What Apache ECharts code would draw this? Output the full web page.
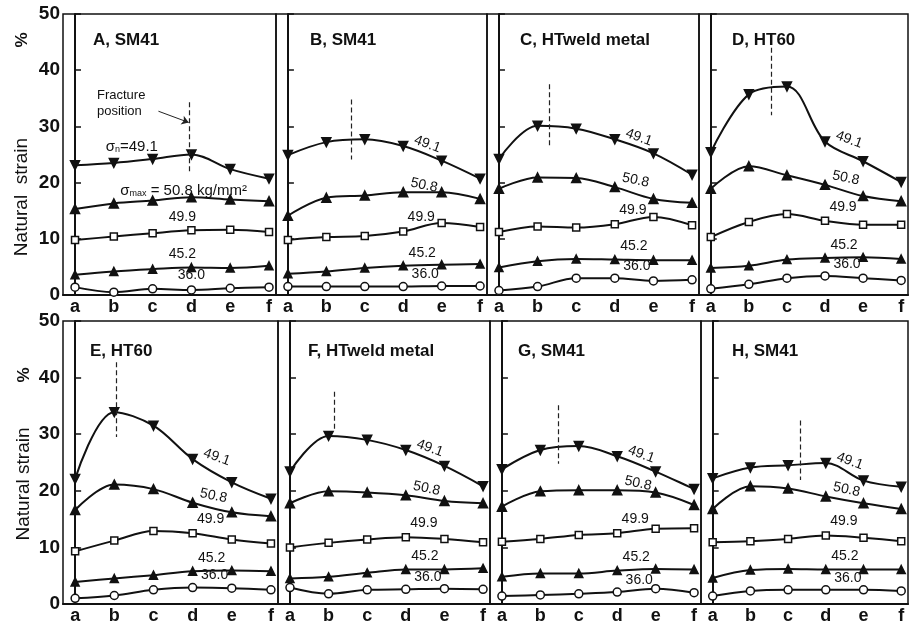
<!DOCTYPE html>
<html>
<head>
<meta charset="utf-8">
<script src="https://cdn.jsdelivr.net/npm/echarts@6/dist/echarts.min.js"></script>
<style>
  html, body { margin: 0; padding: 0; background: #fff; }
  #main { width: 910px; height: 625px; }
</style>
</head>
<body>
<div id="main"></div>
<script>
// categories on the x axis (positions along the specimen)
var categories = ['a', 'b', 'c', 'd', 'e', 'f'];
var panelTitles = ['A, SM41', 'B, SM41', 'C, HTweld metal', 'D, HT60',
                   'E, HT60', 'F, HTweld metal', 'G, SM41', 'H, SM41'];
var yTicks = [0, 10, 20, 30, 40, 50];

// natural strain (%) per panel A..H, one array per stress level
var s49_1 = [
  [23.1, 23.5, 24.2, 25.0, 22.4, 20.7],
  [24.9, 27.2, 27.7, 26.5, 23.9, 20.7],
  [24.2, 30.1, 29.6, 27.7, 25.2, 21.4],
  [25.4, 35.7, 37.1, 27.3, 23.8, 20.1],
  [22.1, 33.9, 31.5, 25.6, 21.5, 18.6],
  [23.4, 29.7, 29.0, 27.2, 24.4, 20.8],
  [23.8, 27.2, 27.9, 26.1, 23.4, 20.3],
  [22.2, 24.1, 24.5, 24.9, 21.8, 20.7]
];
var s50_8 = [
  [15.3, 16.3, 16.8, 17.4, 17.0, 16.7],
  [14.1, 17.3, 17.7, 18.3, 18.3, 17.1],
  [18.9, 20.9, 20.8, 19.2, 17.1, 16.4],
  [18.9, 22.9, 21.3, 19.6, 17.6, 16.7],
  [16.6, 21.1, 20.3, 17.9, 16.2, 15.5],
  [17.8, 19.9, 19.7, 19.2, 18.2, 17.8],
  [17.2, 19.9, 20.1, 20.1, 19.7, 17.5],
  [16.8, 20.8, 20.4, 19.0, 17.8, 16.8]
];
var s49_9 = [
  [9.8, 10.4, 11.0, 11.5, 11.6, 11.2],
  [9.8, 10.3, 10.5, 11.3, 12.8, 12.1],
  [11.2, 12.2, 12.0, 12.6, 13.9, 12.4],
  [10.3, 13.0, 14.4, 13.2, 12.5, 12.5],
  [9.3, 11.2, 12.9, 12.5, 11.4, 10.7],
  [10.0, 10.8, 11.4, 11.8, 11.5, 10.9],
  [11.0, 11.5, 12.2, 12.5, 13.3, 13.4],
  [10.9, 11.1, 11.5, 12.1, 11.7, 11.1]
];
var s45_2 = [
  [3.6, 4.2, 4.6, 4.9, 4.8, 5.2],
  [3.8, 4.2, 4.8, 5.2, 5.4, 5.5],
  [4.9, 6.0, 6.4, 6.3, 6.2, 6.2],
  [4.8, 5.2, 6.3, 6.6, 6.7, 6.4],
  [3.9, 4.5, 5.1, 5.8, 5.9, 5.8],
  [4.5, 4.8, 5.5, 6.1, 6.1, 6.3],
  [4.8, 5.4, 5.4, 5.9, 6.2, 6.1],
  [4.6, 6.0, 6.2, 6.1, 6.1, 6.1]
];
var s36_0 = [
  [1.4, 0.5, 1.1, 0.9, 1.2, 1.4],
  [1.5, 1.5, 1.5, 1.5, 1.6, 1.6],
  [0.8, 1.5, 3.0, 3.0, 2.5, 2.7],
  [1.1, 1.9, 3.0, 3.4, 3.0, 2.6],
  [1.0, 1.5, 2.5, 2.9, 2.8, 2.5],
  [2.9, 1.8, 2.5, 2.6, 2.7, 2.6],
  [1.4, 1.6, 1.8, 2.1, 2.7, 2.0],
  [1.4, 2.3, 2.5, 2.5, 2.5, 2.3]
];
var seriesNames = ['49.1', '50.8', '49.9', '45.2', '36.0'];

// fracture position (x in category units) and the extent of its dashed mark
var fractureX = [2.95, 1.65, 1.3, 1.6, 1.05, 1.14, 1.47, 2.31];
var fractureTop = [34.3, 34.8, 37.5, 44.0, 42.7, 37.5, 35.1, 32.4];
var fractureBottom = [21.8, 24.1, 26.5, 32.0, 29.5, 30.7, 24.8, 21.9];

var FONT = 'Liberation Sans';
var allSets = [s49_1, s50_8, s49_9, s45_2, s36_0];
var symbols = ['triangle', 'triangle', 'rect', 'triangle', 'circle'];
var symbolRot = [180, 0, 0, 0, 0];
var symbolFill = ['#111', '#111', '#fff', '#111', '#fff'];
var symbolSizes = [9, 9, 7, 8, 8];

// label: point index, offset, rotation
var defLabels = [
  {i: 3, off: [22, -10], rot: -20},
  {i: 3, off: [19, -11], rot: -12},
  {i: 3, off: [18, -14], rot: 0},
  {i: 3, off: [19, -13], rot: 0},
  {i: 3, off: [22, -12], rot: 0}
];
var panelALabels = [
  {i: 1, off: [18, -16], rot: 0, text: '{s|σ}{sub|n}{s|=49.1}'},
  {i: 2, off: [31, -10], rot: 0, text: '{s|σ}{sub|max}{s| = 50.8 kg/mm²}'},
  {i: 3, off: [-9, -13], rot: 0},
  {i: 3, off: [-9, -13], rot: 0},
  {i: 3, off: [0, -15], rot: 0}
];

var grids = [], xAxes = [], yAxes = [], series = [], titles = [];
var topLefts = [63, 276, 487, 699], topWidths = [213, 211, 212, 209];
var botLefts = [63, 278, 490, 701], botWidths = [215, 212, 211, 207];
var titleLeft = [88, 305, 515, 727, 85, 303, 513, 727];

for (var p = 0; p < 8; p++) {
  var row = p < 4 ? 0 : 1, col = p % 4;
  grids.push({
    left: row ? botLefts[col] : topLefts[col],
    width: row ? botWidths[col] : topWidths[col],
    top: row ? 321 : 14,
    height: row ? 285 : 281,
    show: true, borderColor: '#111', borderWidth: 1.5,
    containLabel: false
  });
  xAxes.push({
    type: 'value', gridIndex: p, min: -0.31, max: 5.18,
    axisLine: {show: true, onZero: false, lineStyle: {color: '#111', width: 2}},
    axisTick: {show: false},
    splitLine: {show: false},
    axisLabel: {
      customValues: [0, 1, 2, 3, 4, 5],
      formatter: function (v) { return categories[Math.round(v)]; },
      margin: 3, fontSize: 18, fontWeight: 'bold', color: '#111', fontFamily: FONT
    }
  });
  yAxes.push({
    type: 'value', gridIndex: p, min: 0, max: 50, interval: 10,
    axisLine: {show: true, lineStyle: {color: '#111', width: 2}},
    axisTick: {show: true, inside: true, length: 6, lineStyle: {color: '#111', width: 1.5}},
    splitLine: {show: false},
    axisLabel: {
      show: col === 0, margin: 3, fontSize: 19, fontWeight: 'bold',
      color: '#111', fontFamily: FONT
    }
  });
  titles.push({
    text: panelTitles[p], left: titleLeft[p], top: row ? 338 : 27,
    textStyle: {fontSize: 17, fontWeight: 'bold', color: '#111', fontFamily: FONT}
  });

  for (var s = 0; s < 5; s++) {
    var vals = allSets[s][p];
    var lab = p === 0 ? panelALabels[s] : defLabels[s];
    var data = vals.map(function (v, i) {
      var item = {value: [i, v]};
      if (i === lab.i) {
        item.label = {
          show: true, position: 'inside', offset: lab.off, rotate: lab.rot,
          formatter: lab.text || seriesNames[s],
          fontSize: 14, fontFamily: FONT, color: '#111',
          rich: {
            s: {fontSize: 15, fontFamily: FONT, color: '#111'},
            sub: {fontSize: 9, fontFamily: FONT, color: '#111', verticalAlign: 'bottom', padding: [6, 0, 0, 0]}
          }
        };
      }
      return item;
    });
    var ser = {
      type: 'line', name: seriesNames[s], xAxisIndex: p, yAxisIndex: p,
      data: data, smooth: 0.35,
      symbol: symbols[s], symbolRotate: symbolRot[s], symbolSize: symbolSizes[s],
      itemStyle: {color: symbolFill[s], borderColor: '#111', borderWidth: 1.5},
      lineStyle: {color: '#111', width: 2},
      label: {show: false},
      silent: true, animation: false, z: 3
    };
    if (s === 0) {
      var ml = [[
        {coord: [fractureX[p], fractureTop[p]]},
        {coord: [fractureX[p], fractureBottom[p]]}
      ]];
      if (p === 0) {
        ml.push([
          {coord: [2.15, 32.7], lineStyle: {type: 'solid', width: 1}, symbol: 'none'},
          {coord: [2.93, 30.7], symbol: 'arrow', symbolSize: 7}
        ]);
      }
      ser.markLine = {
        silent: true, symbol: ['none', 'none'], label: {show: false},
        lineStyle: {color: '#222', type: [5, 3], width: 1.2},
        data: ml, animation: false
      };
    }
    series.push(ser);
  }
}

var graphic = [
  {type: 'text', x: 22, y: 197, rotation: Math.PI / 2,
   style: {text: 'Natural  strain', fontSize: 19, fontFamily: FONT, fill: '#111',
           align: 'center', verticalAlign: 'middle'}},
  {type: 'text', x: 22, y: 40, rotation: Math.PI / 2,
   style: {text: '%', fontSize: 17, fontWeight: 'bold', fontFamily: FONT, fill: '#111',
           align: 'center', verticalAlign: 'middle'}},
  {type: 'text', x: 24, y: 484, rotation: Math.PI / 2,
   style: {text: 'Natural strain', fontSize: 19, fontFamily: FONT, fill: '#111',
           align: 'center', verticalAlign: 'middle'}},
  {type: 'text', x: 24, y: 375, rotation: Math.PI / 2,
   style: {text: '%', fontSize: 17, fontWeight: 'bold', fontFamily: FONT, fill: '#111',
           align: 'center', verticalAlign: 'middle'}},
  {type: 'text', x: 97, y: 87,
   style: {text: 'Fracture\nposition', fontSize: 13, lineHeight: 16, fontFamily: FONT, fill: '#111'}}
];

var option = {
  backgroundColor: '#fff',
  animation: false,
  title: titles,
  grid: grids,
  xAxis: xAxes,
  yAxis: yAxes,
  series: series,
  graphic: graphic
};

var myChart = echarts.init(document.getElementById('main'));
myChart.setOption(option, true);
</script>
</body>
</html>
